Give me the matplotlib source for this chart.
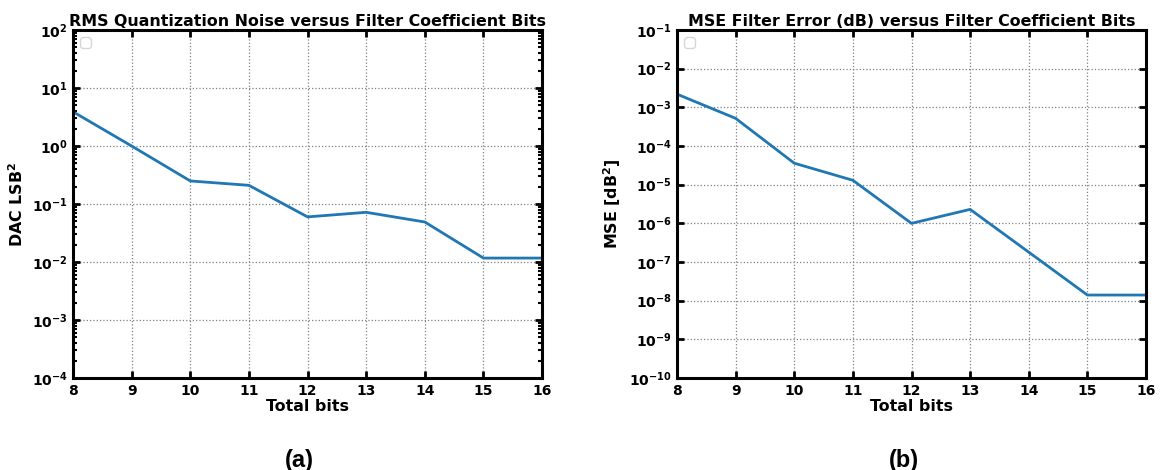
import matplotlib
matplotlib.use("Agg")
import matplotlib.pyplot as plt
from matplotlib.ticker import LogLocator, NullLocator
import warnings
warnings.filterwarnings("ignore")

bits = [8, 9, 10, 11, 12, 13, 14, 15, 16]
rms_noise = [3.9, 1.0, 0.25, 0.21, 0.06, 0.072, 0.049, 0.0117, 0.0117]
mse_err = [2.2e-3, 5.2e-4, 3.6e-5, 1.3e-5, 1.0e-6, 2.3e-6, 1.8e-7, 1.4e-8, 1.4e-8]

titles = ["RMS Quantization Noise versus Filter Coefficient Bits",
          "MSE Filter Error (dB) versus Filter Coefficient Bits"]
ylabels = ["DAC LSB$^\\mathbf{2}$", "MSE [dB$^\\mathbf{2}$]"]
xlabel = "Total bits"
captions = ["(a)", "(b)"]
ylims = [(1e-4, 1e2), (1e-10, 1e-1)]

plt.rcParams['mathtext.default'] = 'bf'
fig = plt.figure(figsize=(11.61, 4.70), dpi=100)
positions = [[0.0629, 0.1957, 0.404, 0.7404], [0.5831, 0.1957, 0.404, 0.7404]]
caption_x = [0.258, 0.779]

for i, series in enumerate([rms_noise, mse_err]):
    ax = fig.add_axes(positions[i])
    ax.semilogy(bits, series, color='#1f77b4', lw=2)
    ax.set_xlim(8, 16)
    ax.set_ylim(*ylims[i])
    ax.yaxis.set_major_locator(LogLocator(base=10, numticks=20))
    if i == 1:
        ax.yaxis.set_minor_locator(NullLocator())
    ax.set_title(titles[i], fontsize=11.4, fontweight='bold', pad=3)
    ax.set_xlabel(xlabel, fontsize=11.4, fontweight='bold', labelpad=1)
    ax.set_ylabel(ylabels[i], fontsize=11.4, fontweight='bold', labelpad=4)
    ax.grid(True, which='major', linestyle=':', color='0.5', lw=0.9)
    for s in ax.spines.values():
        s.set_linewidth(2.2)
    ax.tick_params(which='both', direction='in', top=True, right=True, labelsize=10, pad=4)
    ax.tick_params(which='major', length=5, width=2)
    ax.tick_params(which='minor', length=3, width=1.5)
    for lab in ax.get_xticklabels() + ax.get_yticklabels():
        lab.set_fontweight('bold')
    leg = ax.legend(loc='upper left')
    fig.text(caption_x[i], 10 / 470, captions[i], ha='center', va='center',
             fontsize=17, fontweight='bold', family='Liberation Sans')

fig.savefig("out.png", dpi=100)
